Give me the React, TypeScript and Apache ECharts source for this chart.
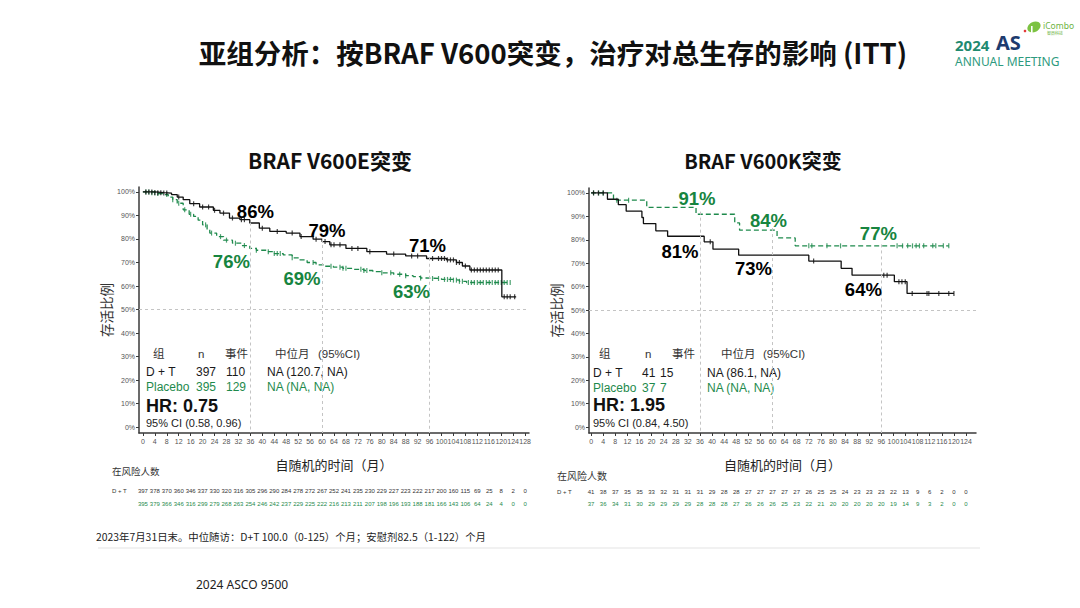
import React, { useEffect, useRef } from "react";
import * as echarts from "echarts";

const FONT = "'Liberation Sans', 'Noto Sans CJK SC', sans-serif";
const CJK = "'Noto Sans CJK SC', 'Liberation Sans', sans-serif";
const BLACK = "#111111";
const GREEN = "#1e8a4c";
const AXIS = "#3a3a3a";

const mainTitle = "亚组分析：按BRAF V600突变，治疗对总生存的影响 (ITT)";
const panelTitles = ["BRAF V600E突变", "BRAF V600K突变"];
const xAxisName = "自随机的时间（月）";
const yAxisName = "存活比例";
const riskTitle = "在风险人数";
const footnote = "2023年7月31日末。中位随访：D+T 100.0（0-125）个月；安慰剂82.5（1-122）个月";
const source = "2024 ASCO 9500";

const monthTicksE = [0, 4, 8, 12, 16, 20, 24, 28, 32, 36, 40, 44, 48, 52, 56, 60, 64, 68, 72, 76, 80, 84, 88, 92, 96, 100, 104, 108, 112, 116, 120, 124, 128];
const monthTicksK = [0, 4, 8, 12, 16, 20, 24, 28, 32, 36, 40, 44, 48, 52, 56, 60, 64, 68, 72, 76, 80, 84, 88, 92, 96, 100, 104, 108, 112, 116, 120, 124];
const pctTicks = [0, 0.1, 0.2, 0.3, 0.4, 0.5, 0.6, 0.7, 0.8, 0.9, 1];

// Kaplan-Meier steps [month, survival]
const kmE_DT = [[0, 1], [4, 0.997], [7, 0.995], [9.6, 0.989], [11.5, 0.978], [13.5, 0.967], [15.7, 0.95], [19, 0.936], [23.6, 0.922], [25.8, 0.91], [29, 0.889], [32.5, 0.882], [35.8, 0.868], [39, 0.846], [42.5, 0.832], [48, 0.825], [52.6, 0.81], [57, 0.799], [60, 0.789], [62.6, 0.775], [68, 0.76], [75, 0.746], [81.6, 0.736], [88, 0.728], [95, 0.717], [101.7, 0.711], [105, 0.70], [107, 0.685], [109.5, 0.668], [120.2, 0.554], [125, 0.554]];
const kmE_PBO = [[0, 1], [3, 0.997], [5, 0.993], [6.8, 0.989], [8.5, 0.978], [10, 0.967], [11.5, 0.952], [13.5, 0.924], [15.5, 0.905], [17, 0.896], [18.5, 0.88], [20, 0.86], [21.5, 0.84], [22.4, 0.825], [24.7, 0.81], [27, 0.795], [30, 0.782], [33, 0.772], [35.8, 0.76], [38, 0.752], [41.4, 0.746], [44, 0.738], [47, 0.732], [50, 0.72], [52.6, 0.711], [55, 0.70], [58, 0.69], [61, 0.684], [63.8, 0.68], [67, 0.675], [70.5, 0.671], [74, 0.666], [77, 0.661], [80, 0.656], [84, 0.65], [88, 0.644], [90.5, 0.64], [93, 0.634], [95, 0.632], [100, 0.628], [104, 0.625], [106, 0.62], [108.4, 0.615], [123, 0.615]];
const kmK_DT = [[0, 1], [5.4, 0.973], [9, 0.95], [11.6, 0.922], [16.8, 0.895], [17.3, 0.869], [21.4, 0.838], [25.3, 0.815], [37.4, 0.791], [40.3, 0.76], [48.8, 0.734], [72, 0.709], [82.7, 0.678], [86.3, 0.649], [100.3, 0.621], [104.5, 0.571], [120, 0.571]];
const kmK_PBO = [[0, 1], [7.4, 0.969], [18.4, 0.938], [34.7, 0.909], [47.5, 0.872], [49.1, 0.841], [61.5, 0.808], [67.5, 0.774], [118.3, 0.774]];

// censoring times (months)
const censE_DT = [1, 2, 3, 4, 5, 6, 7, 8, 12, 17, 20, 22, 24, 27, 30, 33, 34, 40, 45, 50, 53, 58, 61, 63, 64, 66, 70, 72, 76, 84, 90, 92, 97, 99, 100, 101, 102, 103, 104, 105, 106, 108, 110, 111, 112, 113, 114, 115, 116, 117, 118, 119, 121, 122, 123, 124.5];
const censE_PBO = [1, 2, 3, 4, 5, 8, 10, 12, 14, 16, 21, 23, 26, 28, 31, 34, 38, 42, 44, 45, 46, 50, 57, 63, 66, 67, 68, 73, 74, 75, 80, 83, 86, 88, 93, 97, 99, 101, 102, 103, 104, 105, 106, 107, 109, 110, 111, 112, 113, 114, 115, 116, 117, 118, 119, 120, 121, 122, 123];
const censK_DT = [0.8, 2.4, 4, 39.4, 73.6, 96.8, 97.9, 101.8, 102.8, 103.9, 106.2, 111.1, 111.7, 115, 118.3, 120];
const censK_PBO = [0.8, 2.5, 4, 8.5, 12.4, 72, 73, 78, 82.5, 101.2, 103, 104.7, 106.3, 107.5, 108.6, 110, 113, 114, 116.5, 118.3];

// landmark survival (36, 60, 96 months)
const landmarks = [36, 60, 96];
const landE_DT = [0.86, 0.79, 0.71];
const landE_PBO = [0.76, 0.69, 0.63];
const landK_DT = [0.81, 0.73, 0.64];
const landK_PBO = [0.91, 0.84, 0.77];

// numbers at risk
const riskRows = ["D + T", "Placebo"];
const riskE_DT = [397, 378, 370, 360, 346, 337, 330, 320, 316, 305, 296, 290, 284, 278, 272, 267, 252, 241, 235, 230, 229, 227, 223, 222, 217, 200, 160, 115, 69, 25, 8, 2, 0];
const riskE_PBO = [395, 379, 366, 346, 316, 299, 279, 268, 263, 254, 246, 242, 237, 229, 225, 222, 216, 213, 211, 207, 198, 196, 193, 188, 181, 166, 143, 106, 64, 24, 4, 0, 0];
const riskK_DT = [41, 38, 37, 35, 35, 33, 32, 31, 31, 31, 29, 28, 28, 27, 27, 27, 27, 27, 26, 25, 25, 24, 23, 23, 23, 22, 13, 9, 6, 2, 0, 0];
const riskK_PBO = [37, 36, 34, 31, 30, 29, 29, 29, 29, 28, 28, 28, 27, 26, 26, 26, 25, 23, 22, 21, 20, 20, 20, 20, 20, 19, 14, 9, 3, 2, 0, 0];

// summary statistics
const statHeader = ["组", "n", "事件", "中位月", "(95%CI)"];
const statE_N = [397, 395];
const statE_Events = [110, 129];
const statE_Median = ["NA (120.7, NA)", "NA (NA, NA)"];
const statE_HR = "HR: 0.75";
const statE_CI = "95% CI (0.58, 0.96)";
const statK_N = [41, 37];
const statK_Events = [15, 7];
const statK_Median = ["NA (86.1, NA)", "NA (NA, NA)"];
const statK_HR = "HR: 1.95";
const statK_CI = "95% CI (0.84, 4.50)";

function stepAt(curve: number[][], t: number) {
  let v = curve[0][1];
  for (const [x, y] of curve) if (x <= t) v = y;
  return v;
}

function kmX(gi: number, min: number, max: number, ticks: number[]) {
  return {
    type: "value", gridIndex: gi, min, max,
    splitLine: { show: false },
    axisLine: { show: true, onZero: false, lineStyle: { color: AXIS, width: 1.5 } },
    axisTick: { show: true, customValues: ticks, length: 3, lineStyle: { color: AXIS, width: 1 } },
    axisLabel: { show: true, customValues: ticks, fontSize: 7, color: "#555", margin: 5, fontFamily: FONT },
    name: xAxisName, nameLocation: "middle", nameGap: 25,
    nameTextStyle: { fontSize: 13, color: "#222", fontFamily: CJK },
  };
}
function kmY(gi: number) {
  return {
    type: "value", gridIndex: gi, min: -0.025, max: 1.021,
    splitLine: { show: false },
    axisLine: { show: true, onZero: false, lineStyle: { color: AXIS, width: 1.5 } },
    axisTick: { show: true, customValues: pctTicks, length: 3, lineStyle: { color: AXIS, width: 1 } },
    axisLabel: { show: true, customValues: pctTicks, fontSize: 7, color: "#555", margin: 4, fontFamily: FONT,
      formatter: (v: number) => Math.round(v * 100) + "%" },
    name: yAxisName, nameLocation: "middle", nameGap: 22,
    nameTextStyle: { fontSize: 13.5, color: "#333", fontFamily: CJK },
  };
}
function riskX(gi: number, min: number, max: number) {
  return { type: "value", gridIndex: gi, min, max, show: false };
}
function riskY(gi: number, margin: number) {
  return {
    type: "category", gridIndex: gi, data: riskRows, inverse: true,
    axisLine: { show: false }, axisTick: { show: false }, splitLine: { show: false },
    axisLabel: {
      show: true, align: "left", margin,
      formatter: (v: string) => (v === "Placebo" ? "{g|Placebo}" : "{k|D + T}"),
      rich: { g: { color: GREEN, fontSize: 6, fontFamily: FONT }, k: { color: "#333", fontSize: 6, fontFamily: FONT } },
    },
  };
}

function labelScatter(xi: number, data: any[], color: string, size: number, weight: string, fmt: (p: any) => string, z = 5) {
  return {
    type: "scatter", xAxisIndex: xi, yAxisIndex: xi, symbolSize: 0, silent: true, z,
    itemStyle: { color, opacity: 1 },
    data,
    label: {
      show: true, position: "inside", color, opacity: 1, fontSize: size, fontWeight: weight, fontFamily: FONT,
      textBorderWidth: 0, formatter: fmt,
    },
  };
}

function panelSeries(
  gi: number, riskGi: number,
  kmDT: number[][], kmPBO: number[][], cDT: number[], cPBO: number[],
  lDT: number[], lPBO: number[], offDT: number[][], offPBO: number[][],
  months: number[], rDT: number[], rPBO: number[]
) {
  const vlines = landmarks.map((m, i) => [
    { coord: [m, Math.max(lDT[i], lPBO[i]) + 0.01] },
    { coord: [m, -0.025] },
  ]);
  const pct = (p: any) => Math.round(p.value[1] * 100) + "%";
  const notes = (land: number[], offs: number[][]) =>
    landmarks.map((m, i) => ({ value: [m, land[i]], label: { offset: offs[i] } }));
  const risk = (p: any) => String(p.value[2]);
  return [
    {
      type: "line", xAxisIndex: gi, yAxisIndex: gi, step: "end", showSymbol: false, silent: true,
      data: kmPBO, lineStyle: { color: GREEN, width: 1.3, type: [5, 3] }, z: 3,
    },
    {
      type: "line", xAxisIndex: gi, yAxisIndex: gi, step: "end", showSymbol: false, silent: true,
      data: kmDT, lineStyle: { color: BLACK, width: 1.3 }, z: 4,
      markLine: {
        silent: true, symbol: "none", label: { show: false },
        lineStyle: { color: "#c4c4c4", width: 1, type: [3, 3] },
        data: [...vlines, { yAxis: 0.5 }],
      },
    },
    {
      type: "scatter", xAxisIndex: gi, yAxisIndex: gi, symbol: "rect", symbolSize: [1.2, 5], silent: true,
      itemStyle: { color: GREEN }, data: cPBO.map((t) => [t, stepAt(kmPBO, t)]), z: 3,
    },
    {
      type: "scatter", xAxisIndex: gi, yAxisIndex: gi, symbol: "rect", symbolSize: [1.2, 5], silent: true,
      itemStyle: { color: BLACK }, data: cDT.map((t) => [t, stepAt(kmDT, t)]), z: 4,
    },
    labelScatter(gi, notes(lDT, offDT), "#000000", 18.5, "bold", pct, 6),
    labelScatter(gi, notes(lPBO, offPBO), "#17853f", 18.5, "bold", pct, 6),
    labelScatter(riskGi, months.map((m, i) => [m, riskRows[0], rDT[i]]), "#333333", 6, "normal", risk),
    labelScatter(riskGi, months.map((m, i) => [m, riskRows[1], rPBO[i]]), GREEN, 6, "normal", risk),
  ];
}

function txt(x: number, y: number, text: string, o: any = {}) {
  return {
    type: "text", x, y, silent: true,
    style: {
      text, fill: o.fill || "#222", fontSize: o.size || 12, fontWeight: o.weight || "normal",
      fontFamily: o.family || FONT, align: o.align || "left", verticalAlign: "middle",
    },
  };
}

function statsGraphics(cols: number[], headCols: number[], n: number[], ev: number[], med: string[], hr: string, ci: string, ys: number[]) {
  const g: any[] = [];
  statHeader.forEach((h, i) => g.push(txt(headCols[i], ys[0], h, { size: 11.5, fill: "#333" })));
  riskRows.forEach((r, i) => {
    const fill = i === 0 ? "#1a1a1a" : GREEN;
    const y = ys[1 + i];
    g.push(txt(cols[0], y, r, { size: 12, fill }));
    g.push(txt(cols[1], y, String(n[i]), { size: 12, fill }));
    g.push(txt(cols[2], y, String(ev[i]), { size: 12, fill }));
    g.push(txt(cols[3], y, med[i], { size: 12, fill }));
  });
  g.push(txt(cols[0], ys[3], hr, { size: 18, weight: "bold", fill: "#111" }));
  g.push(txt(cols[0], ys[4], ci, { size: 11, fill: "#222" }));
  return g;
}

export default function App() {
  const ref = useRef<HTMLDivElement>(null);
  useEffect(() => {
    if (!ref.current) return;
    const chart = echarts.init(ref.current, undefined, { renderer: "svg" });
    const option: any = {
      animation: false,
      backgroundColor: "#ffffff",
      grid: [
        { left: 139, top: 187, width: 390, height: 246 },
        { left: 589, top: 188, width: 387, height: 245 },
        { left: 139, top: 484.5, width: 390, height: 26 },
        { left: 589, top: 486, width: 387, height: 24 },
      ],
      xAxis: [kmX(0, -1.3, 129.3, monthTicksE), kmX(1, -0.7, 127.3, monthTicksK), riskX(2, -1.3, 129.3), riskX(3, -0.7, 127.3)],
      yAxis: [kmY(0), kmY(1), riskY(2, 27), riskY(3, 32)],
      series: [
        ...panelSeries(0, 2, kmE_DT, kmE_PBO, censE_DT, censE_PBO, landE_DT, landE_PBO,
          [[5, -13], [5, -11], [-2, -15]], [[-19, 13], [-20, 14], [-18, 13]],
          monthTicksE, riskE_DT, riskE_PBO),
        ...panelSeries(1, 3, kmK_DT, kmK_PBO, censK_DT, censK_PBO, landK_DT, landK_PBO,
          [[-20, 14], [-19, 12], [-18, 12]], [[-3, -15], [-4, -10], [-3, -13]],
          monthTicksK, riskK_DT, riskK_PBO),
      ],
      graphic: [
        txt(553, 52, mainTitle, { size: 27.5, weight: "bold", family: CJK, align: "center", fill: "#111" }),
        txt(330, 160, panelTitles[0], { size: 21, weight: "bold", family: CJK, align: "center", fill: "#111" }),
        txt(763, 160, panelTitles[1], { size: 20, weight: "bold", family: CJK, align: "center", fill: "#111" }),
        ...statsGraphics([146, 196, 226, 267], [153, 198, 225, 275, 318], statE_N, statE_Events, statE_Median, statE_HR, statE_CI, [354, 372, 387, 406, 423]),
        ...statsGraphics([593, 642, 660, 707], [599, 645, 672, 721, 763], statK_N, statK_Events, statK_Median, statK_HR, statK_CI, [354, 373, 388, 405, 423]),
        txt(112, 471, riskTitle, { size: 9.5, family: CJK, fill: "#333" }),
        txt(557, 475, riskTitle, { size: 10, family: CJK, fill: "#333" }),
        txt(96, 536, footnote, { size: 10.4, family: CJK, fill: "#222" }),
        { type: "line", silent: true, shape: { x1: 98, y1: 548, x2: 980, y2: 548 }, style: { stroke: "#e3e3e3", lineWidth: 1 } },
        txt(196, 584, source, { size: 12, family: "'Noto Sans', sans-serif", fill: "#222" }),
        // logo
        txt(955, 45, "2024", { size: 15, weight: "bold", family: "'Noto Sans', sans-serif", fill: "#1f8a70" }),
        txt(996, 42, "AS", { size: 20, weight: "bold", family: "'Noto Sans', sans-serif", fill: "#1d3b6e" }),
        txt(955, 61.5, "ANNUAL MEETING", { size: 12, family: "'Noto Sans', sans-serif", fill: "#2e9a7e" }),
        { type: "circle", silent: true, shape: { cx: 1025, cy: 31, r: 1.3 }, style: { fill: "#e23b3b" } },
        { type: "ellipse", silent: true, x: 1034, y: 27, rotation: 0.5, shape: { cx: 0, cy: 0, rx: 7, ry: 5 }, style: { fill: "#7cc242" } },
        { type: "rect", silent: true, shape: { x: 1031, y: 26, width: 1.6, height: 7 }, style: { fill: "#ffffff" } },
        txt(1043, 25, "iCombo", { size: 8.5, family: "'Noto Sans', sans-serif", fill: "#6cb33f" }),
        txt(1047, 33, "智鼎科技", { size: 4, family: CJK, fill: "#6cb33f" }),
      ],
    };
    chart.setOption(option);
    return () => chart.dispose();
  }, []);
  return (
    <div
      ref={ref}
      style={{ position: "absolute", left: 0, top: 0, width: 1080, height: 608, background: "#fff" }}
    />
  );
}
